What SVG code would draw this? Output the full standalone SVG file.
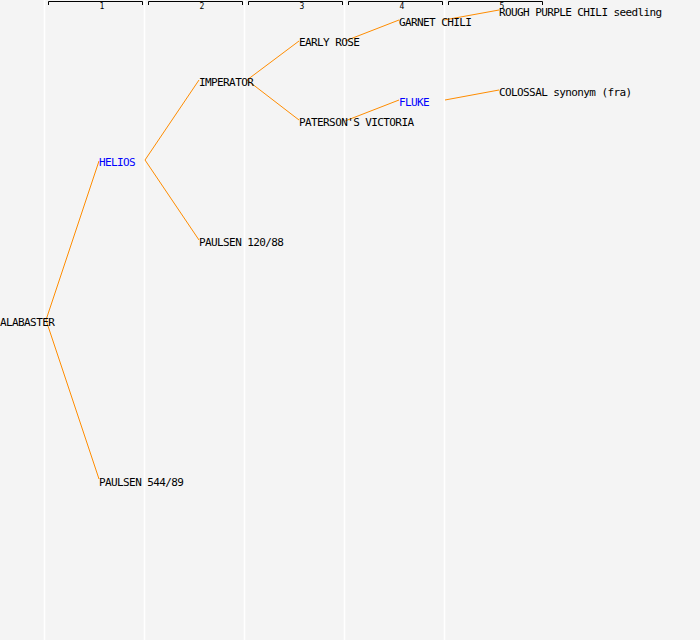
<svg xmlns="http://www.w3.org/2000/svg" width="700" height="640" viewBox="0 0 700 640">
<style>
.bg{fill:#f4f4f4}
.div{stroke:#ffffff;stroke-width:1.5}
.br{fill:none;stroke:#000;stroke-width:1}
.num{font-family:"DejaVu Sans Mono",monospace;font-size:8px;fill:#000}
.lbl{font-family:"DejaVu Sans Mono",monospace;font-size:11px;letter-spacing:-0.6px;fill:#000}
.blue{fill:#0000ff}
.edge{fill:none;stroke:#ff8c00;stroke-width:1}
</style>
<rect class="bg" x="0" y="0" width="700" height="640"/>
<g id="columns">
<line class="div" x1="44.5" y1="0" x2="44.5" y2="640"/>
<line class="div" x1="144.5" y1="0" x2="144.5" y2="640"/>
<line class="div" x1="244.5" y1="0" x2="244.5" y2="640"/>
<line class="div" x1="344.5" y1="0" x2="344.5" y2="640"/>
<line class="div" x1="444.5" y1="0" x2="444.5" y2="640"/>
<path class="br" d="M48.5,5 V1.5 H142.5 V5"/>
<path class="br" d="M148.5,5 V1.5 H242.5 V5"/>
<path class="br" d="M248.5,5 V1.5 H342.5 V5"/>
<path class="br" d="M348.5,5 V1.5 H442.5 V5"/>
<path class="br" d="M448.5,5 V1.5 H542.5 V5"/>
<text class="num" x="99.5" y="9">1</text>
<text class="num" x="199.5" y="9">2</text>
<text class="num" x="299.5" y="9">3</text>
<text class="num" x="399.5" y="9">4</text>
<text class="num" x="499.5" y="9">5</text>
</g>
<g id="connectors">
<line class="edge" x1="46" y1="320" x2="99" y2="161"/>
<line class="edge" x1="46" y1="320" x2="99" y2="479"/>
<line class="edge" x1="145" y1="160" x2="199" y2="80"/>
<line class="edge" x1="145" y1="160" x2="199" y2="240"/>
<line class="edge" x1="247" y1="80" x2="299" y2="41"/>
<line class="edge" x1="247" y1="80" x2="299" y2="120"/>
<line class="edge" x1="345" y1="41" x2="399" y2="20"/>
<line class="edge" x1="345" y1="121" x2="399" y2="100"/>
<line class="edge" x1="444" y1="20" x2="499" y2="10"/>
<line class="edge" x1="445" y1="100" x2="499" y2="90"/>
</g>
<g id="n-alabaster"><text class="lbl" x="0" y="326">ALABASTER</text></g>
<g id="n-helios"><text class="lbl blue" x="99" y="166">HELIOS</text></g>
<g id="n-paulsen544"><text class="lbl" x="99" y="486">PAULSEN 544/89</text></g>
<g id="n-imperator"><text class="lbl" x="199" y="86">IMPERATOR</text></g>
<g id="n-paulsen120"><text class="lbl" x="199" y="246">PAULSEN 120/88</text></g>
<g id="n-earlyrose"><text class="lbl" x="299" y="46">EARLY ROSE</text></g>
<g id="n-paterson"><text class="lbl" x="299" y="126">PATERSON'S VICTORIA</text></g>
<g id="n-garnet"><text class="lbl" x="399" y="26">GARNET CHILI</text></g>
<g id="n-fluke"><text class="lbl blue" x="399" y="106">FLUKE</text></g>
<g id="n-rough"><text class="lbl" x="499" y="16">ROUGH PURPLE CHILI seedling</text></g>
<g id="n-colossal"><text class="lbl" x="499" y="96">COLOSSAL synonym (fra)</text></g>
</svg>
